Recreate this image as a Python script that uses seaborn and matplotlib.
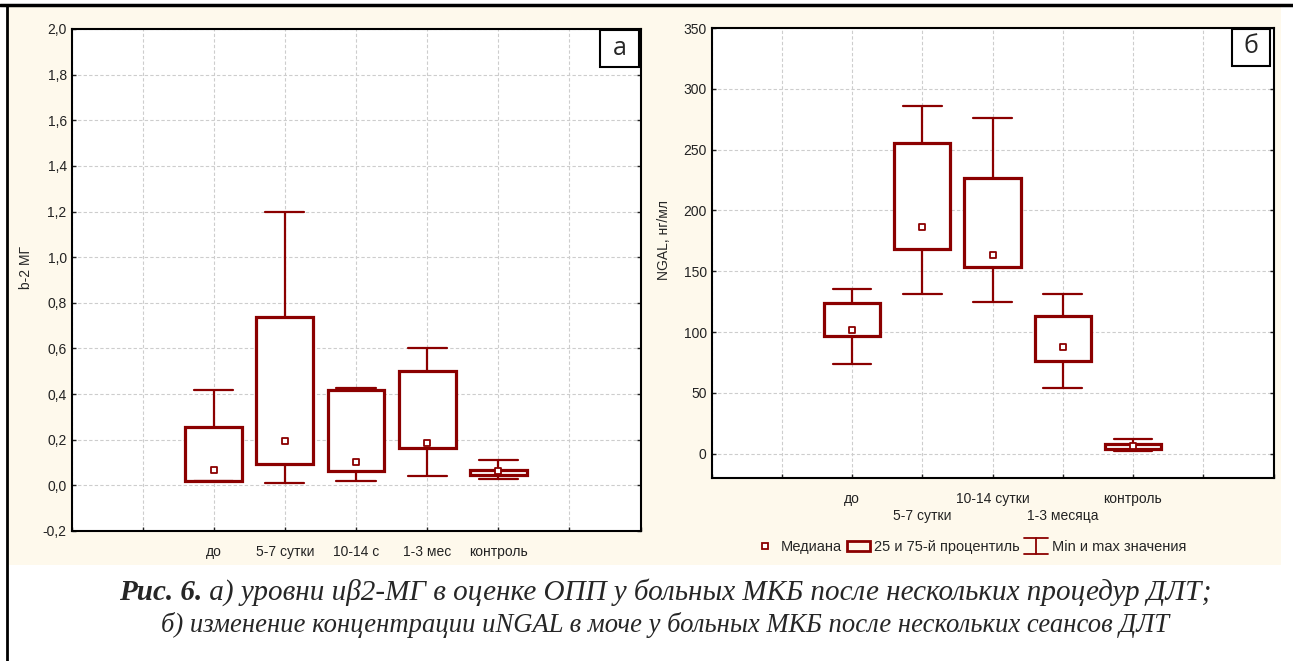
import numpy as np
import pandas as pd
import seaborn as sns
import matplotlib.pyplot as plt
from matplotlib.lines import Line2D
from matplotlib.patches import Patch, Rectangle
from matplotlib.legend_handler import HandlerBase

# panel a: b2-microglobulin (min, 25%, median, 75%, max)
groups_a = ["до", "5-7 сутки", "10-14 с", "1-3 мес", "контроль"]
a_min = [0.02, 0.012, 0.02, 0.04, 0.03]
a_q1 = [0.02, 0.092, 0.063, 0.164, 0.044]
a_med = [0.066, 0.196, 0.102, 0.186, 0.064]
a_q3 = [0.257, 0.74, 0.42, 0.50, 0.069]
a_max = [0.42, 1.20, 0.425, 0.60, 0.111]

# panel b: NGAL, ng/ml
groups_b = ["до", "5-7 сутки", "10-14 сутки", "1-3 месяца", "контроль"]
b_min = [74, 131, 125, 54, 2.5]
b_q1 = [96.5, 168, 153.5, 76.5, 4.2]
b_med = [102, 186, 163.5, 87.5, 6.3]
b_q3 = [124, 255.5, 226.5, 113.5, 7.7]
b_max = [135, 286, 276, 131, 11.8]

a_ticks = [-0.2, 0.0, 0.2, 0.4, 0.6, 0.8, 1.0, 1.2, 1.4, 1.6, 1.8, 2.0]
b_ticks = [0, 50, 100, 150, 200, 250, 300, 350]

RED = "#8B0000"
CREAM = "#FEF9EC"
W, H = 1293, 661

sns.set_style("ticks")
plt.rcParams["font.family"] = ["Liberation Sans", "DejaVu Sans"]


def long_frame(groups, *cols):
    # five summary values per group -> quartiles come out exactly, whiskers to min/max
    rows = []
    for i, g in enumerate(groups):
        for c in cols:
            rows.append({"group": g, "value": c[i]})
    return pd.DataFrame(rows)


def draw_panel(ax, groups, lo, q1, med, q3, hi):
    df = long_frame(groups, lo, q1, med, q3, hi)
    sns.boxplot(data=df, x="group", y="value", order=groups, ax=ax,
                whis=(0, 100), width=0.8, color="white", linecolor=RED,
                linewidth=1.6, capwidths=0.55, showfliers=False,
                medianprops={"visible": False})
    for p in ax.patches:
        p.set_linewidth(2.3)
    sns.stripplot(x=groups, y=med, order=groups, ax=ax, jitter=False,
                  marker="s", size=5, color="white", edgecolor=RED,
                  linewidth=1.3, zorder=5)
    ax.set_xlim(-2, 6)
    ax.set_xticks(range(-2, 7))
    ax.set_facecolor("white")
    ax.grid(True, which="major", color="#CDCDCD", linestyle=(0, (3, 2)), linewidth=0.8)
    ax.set_axisbelow(True)
    for s in ax.spines.values():
        s.set_visible(True)
        s.set_linewidth(1.5)
        s.set_color("black")
    ax.tick_params(direction="in", length=3, width=1, labelsize=10,
                   right=True, top=False, colors="#222222")
    ax.set_xlabel("")


fig = plt.figure(figsize=(W / 100, H / 100), dpi=100, facecolor="white")
fig.add_artist(Rectangle((8 / W, 1 - 565 / H), (1281 - 8) / W, (565 - 6) / H,
                         transform=fig.transFigure, facecolor=CREAM,
                         edgecolor="none", zorder=-10))
fig.add_artist(Line2D([0, 1], [1 - 5 / H, 1 - 5 / H], color="black", lw=2.5,
                      transform=fig.transFigure))
fig.add_artist(Line2D([7 / W, 7 / W], [0, 1 - 5 / H], color="black", lw=2,
                      transform=fig.transFigure))

ax1 = fig.add_axes([71.5 / W, 1 - 531 / H, 569 / W, 502 / H])
ax2 = fig.add_axes([711.5 / W, 1 - 478 / H, 562 / W, 450 / H])

draw_panel(ax1, groups_a, a_min, a_q1, a_med, a_q3, a_max)
ax1.set_ylim(-0.2, 2.0)
ax1.set_yticks(a_ticks)
ax1.set_yticklabels([f"{t:.1f}".replace(".", ",") for t in a_ticks])
ax1.set_xticklabels(["", ""] + groups_a + ["", ""])
ax1.tick_params(axis="x", pad=10)
ax1.set_ylabel("b-2 МГ", fontsize=10)
ax1.yaxis.set_label_coords(-0.068, 0.524)

draw_panel(ax2, groups_b, b_min, b_q1, b_med, b_q3, b_max)
ax2.set_ylim(-20, 350)
ax2.set_yticks(b_ticks)
ax2.set_yticklabels([str(t) for t in b_ticks])
# staggered category labels: first row on major ticks, second row on minor ticks
ax2.xaxis.remove_overlapping_locs = False
ax2.set_xticklabels(["", "", groups_b[0], "", groups_b[2], "", groups_b[4], "", ""])
ax2.set_xticks([1, 3], minor=True)
ax2.set_xticklabels([groups_b[1], groups_b[3]], minor=True)
ax2.tick_params(axis="x", which="major", pad=10)
ax2.tick_params(axis="x", which="minor", pad=22, length=0, labelsize=10,
                colors="#222222")
ax2.set_ylabel("NGAL, нг/мл", fontsize=10)
ax2.yaxis.set_label_coords(-0.072, 0.529)

# panel letters
for ax, letter, x0, y0 in [(ax1, "а", 0.929, 0.924), (ax2, "б", 0.926, 0.916)]:
    ax.add_patch(Rectangle((x0, y0), 0.068, 1 - y0 - 0.002, transform=ax.transAxes,
                           facecolor="white", edgecolor="black", lw=1.5, zorder=6))
    ax.text(x0 + 0.034, y0 + (1 - y0) / 2, letter, transform=ax.transAxes,
            ha="center", va="center", fontsize=18, zorder=7,
            family=["Open Sans", "DejaVu Sans"])


class WhiskerHandler(HandlerBase):
    def create_artists(self, legend, orig_handle, xdescent, ydescent,
                       width, height, fontsize, trans):
        x0, x1 = -xdescent, -xdescent + width
        xm = (x0 + x1) / 2
        y0, y1 = -ydescent - 2, -ydescent + height + 2
        kw = dict(color=RED, lw=1.3, transform=trans)
        return [Line2D([x0, x1], [y1, y1], **kw),
                Line2D([xm, xm], [y0, y1], **kw),
                Line2D([x0, x1], [y0, y0], **kw)]


h_med = Line2D([], [], marker="s", linestyle="none", markersize=5,
               markerfacecolor="white", markeredgecolor=RED, markeredgewidth=1.3)
h_box = Patch(facecolor="none", edgecolor=RED, linewidth=2)
h_wh = Line2D([], [])
fig.legend([h_med, h_box, h_wh],
           ["Медиана", "25 и 75-й процентиль", "Min и max значения"],
           handler_map={h_wh: WhiskerHandler()},
           loc="center", bbox_to_anchor=(970 / W, 1 - 547 / H), ncol=3,
           frameon=False, fontsize=10.5, handlelength=1.6, handletextpad=0.3,
           columnspacing=0.3)

# caption
serif = ["Liberation Serif", "DejaVu Serif"]
t1 = fig.text(0, 1 - 600 / H, "Рис. 6.", fontsize=21, style="italic",
              fontweight="bold", family=serif, ha="left", va="baseline")
t2 = fig.text(0, 1 - 600 / H,
              " а) уровни uβ2-МГ в оценке ОПП у больных МКБ после нескольких процедур ДЛТ;",
              fontsize=21, style="italic", family=serif, ha="left", va="baseline")
fig.text(665 / W, 1 - 632 / H,
         "б) изменение концентрации uNGAL в моче у больных МКБ после нескольких сеансов ДЛТ",
         fontsize=19.2, style="italic", family=serif, ha="center", va="baseline")
renderer = fig.canvas.get_renderer()
w1 = t1.get_window_extent(renderer).width
w2 = t2.get_window_extent(renderer).width
start = 665 - (w1 + w2) / 2
t1.set_x(start / W)
t2.set_x((start + w1) / W)

fig.savefig("out.png", dpi=100, facecolor="white")
